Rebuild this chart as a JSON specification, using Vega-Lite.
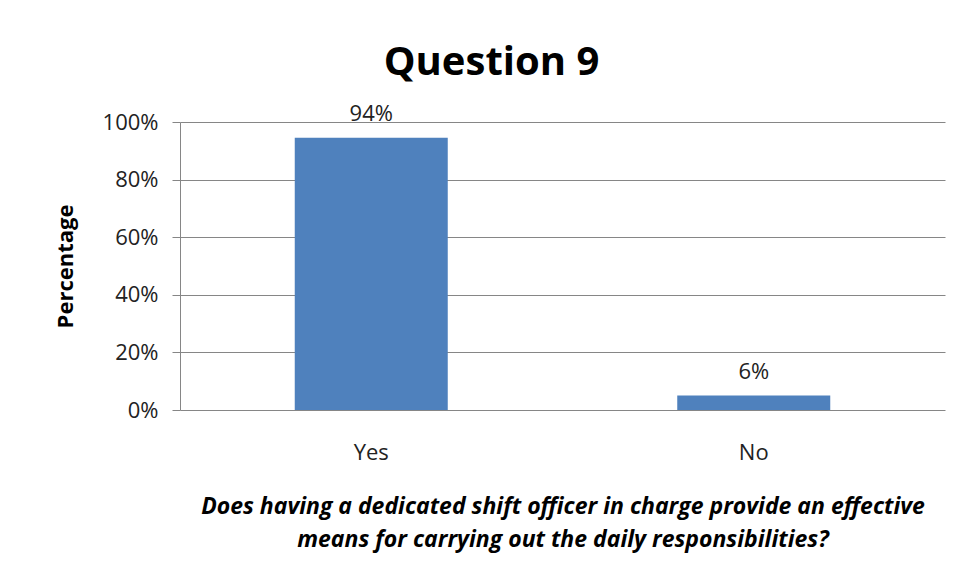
{
  "$schema": "https://vega.github.io/schema/vega-lite/v6.json",
  "autosize": "none",
  "width": 765,
  "height": 288,
  "padding": {"left": 180, "top": 122, "right": 11, "bottom": 171},
  "background": "white",
  "config": {
    "view": {"stroke": null},
    "font": "Open Sans"
  },
  "title": {
    "text": "Question 9",
    "fontSize": 40,
    "fontWeight": "bold",
    "font": "Open Sans",
    "color": "#000000",
    "anchor": "middle",
    "dx": -71,
    "offset": 20
  },
  "data": {
    "values": [
      {"answer": "Yes", "share": 0.945, "label": "94%"},
      {"answer": "No", "share": 0.05, "label": "6%"}
    ]
  },
  "encoding": {
    "x": {
      "field": "answer",
      "type": "nominal",
      "sort": ["Yes", "No"],
      "scale": {"paddingInner": 0.6, "paddingOuter": 0.3},
      "axis": {
        "title": ["Does having a dedicated shift officer in charge provide an effective", "means for carrying out the daily responsibilities?"],
        "titleFont": "Open Sans",
        "titleFontSize": 23,
        "titleFontWeight": "bold",
        "titleFontStyle": "italic",
        "titleColor": "#000000",
        "titleLineHeight": 33,
        "titlePadding": 32,
        "labelAngle": 0,
        "labelFontSize": 22,
        "labelColor": "#222222",
        "labelPadding": 32,
        "ticks": false,
        "domain": false
      }
    },
    "y": {
      "field": "share",
      "type": "quantitative",
      "scale": {"domain": [0, 1]},
      "axis": {
        "format": ".0%",
        "values": [0, 0.2, 0.4, 0.6, 0.8, 1],
        "title": "Percentage",
        "titleFont": "Open Sans",
        "titleFontSize": 22,
        "titleFontWeight": "bold",
        "titleColor": "#000000",
        "titleX": -115,
        "titleY": 144,
        "titleAlign": "center",
        "titleBaseline": "middle",
        "titleAngle": -90,
        "labelFontSize": 22,
        "labelColor": "#222222",
        "labelPadding": 14,
        "tickSize": 8,
        "tickColor": "#868686",
        "domainColor": "#868686",
        "grid": true,
        "gridColor": "#868686",
        "gridOpacity": 1
      }
    }
  },
  "layer": [
    {
      "mark": {"type": "bar", "color": "#4F81BD"}
    },
    {
      "mark": {"type": "text", "baseline": "bottom", "dy": -12, "fontSize": 22, "color": "#222222", "font": "Open Sans"},
      "encoding": {"text": {"field": "label"}}
    }
  ]
}
